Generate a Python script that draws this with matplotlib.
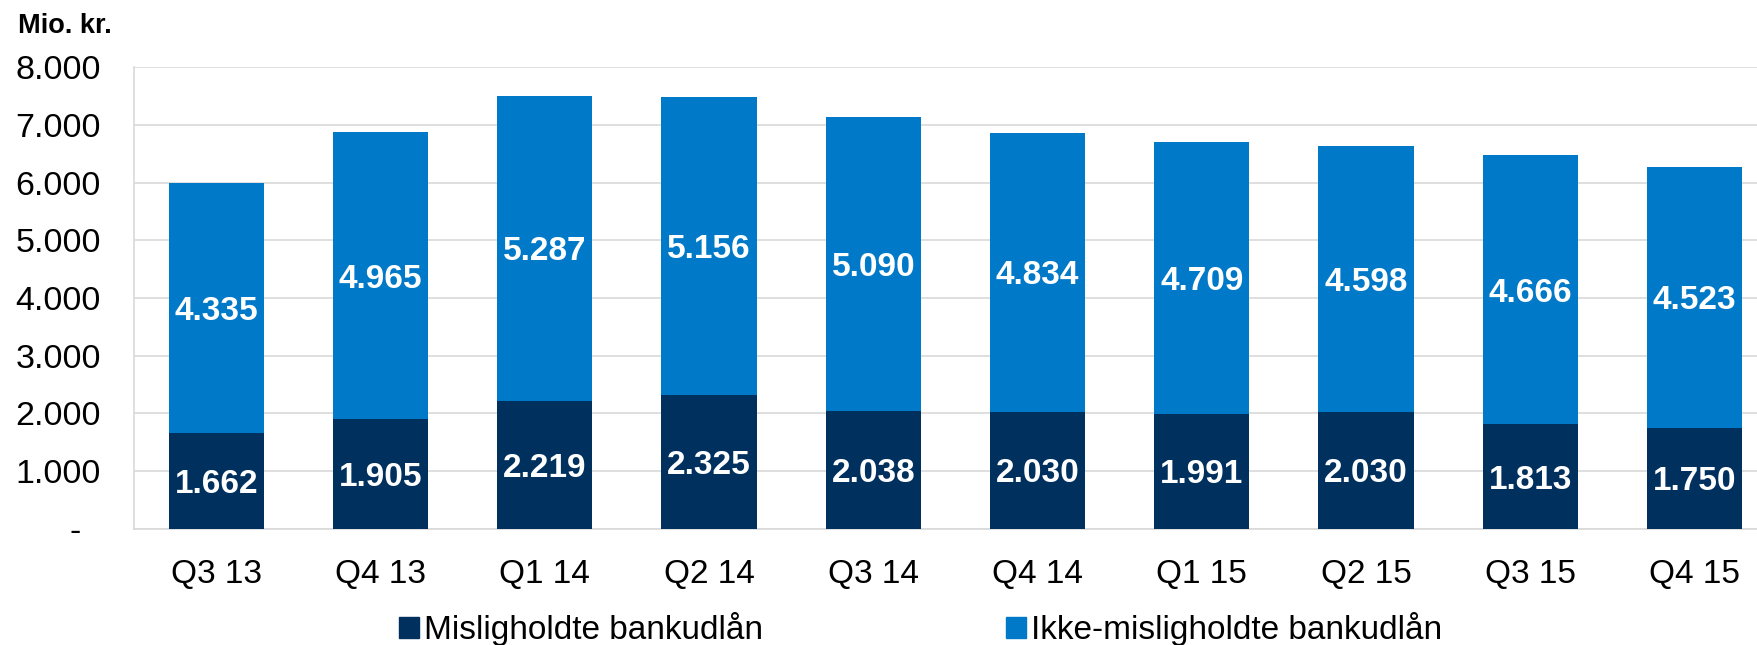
import matplotlib
matplotlib.use("Agg")
import matplotlib.pyplot as plt
from matplotlib.patches import Patch
import numpy as np

plt.rcParams['font.family'] = ['Liberation Sans', 'DejaVu Sans']

# Data (Mio. kr.)
quarters = ["Q3 13", "Q4 13", "Q1 14", "Q2 14", "Q3 14", "Q4 14", "Q1 15", "Q2 15", "Q3 15", "Q4 15"]
misligholdte = [1662, 1905, 2219, 2325, 2038, 2030, 1991, 2030, 1813, 1750]
ikke_misligholdte = [4335, 4965, 5287, 5156, 5090, 4834, 4709, 4598, 4666, 4523]
yticks = [0, 1000, 2000, 3000, 4000, 5000, 6000, 7000, 8000]
ytick_labels = ["-  ", "1.000", "2.000", "3.000", "4.000", "5.000", "6.000", "7.000", "8.000"]

dark = "#00305E"
light = "#0079C8"

fig = plt.figure(figsize=(17.57, 6.45), dpi=100)
ax = fig.add_axes([0.0763, 0.18, 0.9237, 0.716])

x = np.arange(len(quarters))
ax.bar(x, misligholdte, width=0.58, color=dark, zorder=3)
ax.bar(x, ikke_misligholdte, width=0.58, bottom=misligholdte, color=light, zorder=3)

def fmt(v):
    return f"{v:,}".replace(",", ".")

# value labels in the middle of each segment
for xi, lo, hi in zip(x, misligholdte, ikke_misligholdte):
    ax.text(xi, lo / 2, fmt(lo), ha="center", va="center_baseline", color="white",
            fontsize=24, fontweight="bold", zorder=4)
    ax.text(xi, lo + hi / 2, fmt(hi), ha="center", va="center_baseline", color="white",
            fontsize=24, fontweight="bold", zorder=4)

ax.set_ylim(0, 8000)
ax.set_xlim(-0.5, 9.38)
ax.set_yticks(yticks)
ax.set_yticklabels(ytick_labels, fontsize=24.5)
ax.set_xticks(x)
ax.set_xticklabels(quarters, fontsize=24)
ax.tick_params(axis="y", length=0, pad=24)
ax.tick_params(axis="x", length=0, pad=22)
ax.grid(axis="y", color="#D9D9D9", linewidth=1.2, zorder=0)
for s in ["top", "right"]:
    ax.spines[s].set_visible(False)
for s in ["left", "bottom"]:
    ax.spines[s].set_color("#D9D9D9")
    ax.spines[s].set_linewidth(1.2)

fig.text(18 / 1757, 1 - 33 / 645, "Mio. kr.", fontsize=19.5, fontweight="bold", va="baseline")

handles = [Patch(color=dark), Patch(color=light)]
fig.legend(handles, ["Misligholdte bankudlån", "Ikke-misligholdte bankudlån"],
           loc="center", bbox_to_anchor=(0.524, 0.025), ncol=2, frameon=False,
           fontsize=24, handlelength=0.6, handleheight=0.6, handletextpad=0.15,
           columnspacing=7.3)

fig.savefig("out.png", dpi=100)
